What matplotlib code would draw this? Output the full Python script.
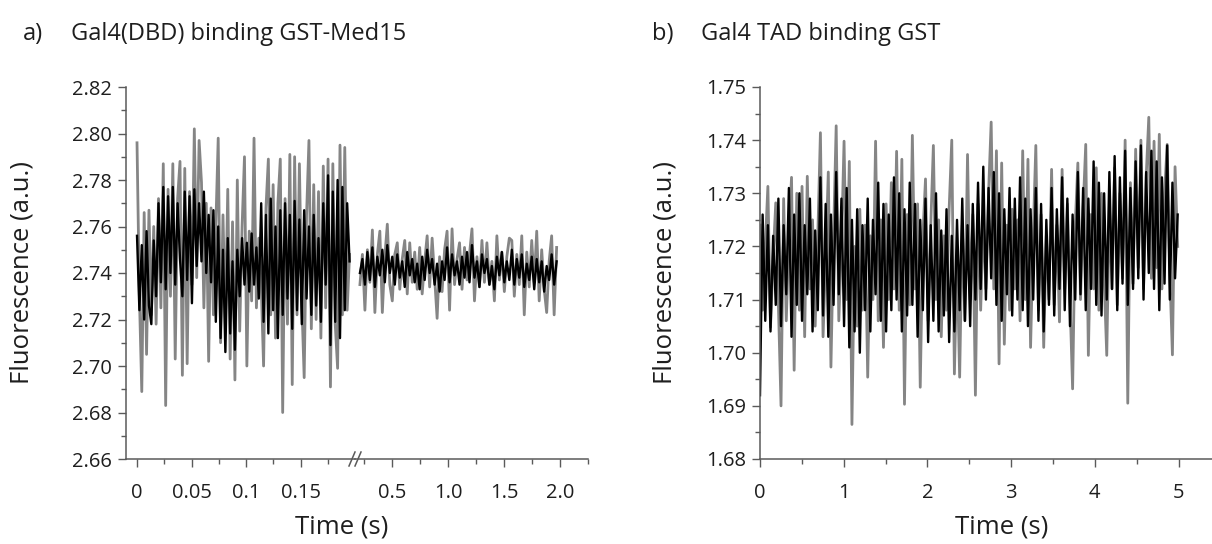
import numpy as np
import matplotlib
matplotlib.use("Agg")
import matplotlib.pyplot as plt
from matplotlib.ticker import MultipleLocator, FixedLocator

plt.rcParams['font.family'] = ['Open Sans', 'DejaVu Sans']

# ---------------- data ----------------
# Panel a, fast segment (0 - 0.195 s)
a1_t_start, a1_t_end = 0.0, 0.195
a1_gray = [2.796, 2.730, 2.689, 2.766, 2.705, 2.767, 2.722, 2.760, 2.718, 2.772,
           2.725, 2.787, 2.683, 2.776, 2.730, 2.787, 2.703, 2.772, 2.788, 2.696,
           2.785, 2.701, 2.775, 2.735, 2.802, 2.738, 2.797, 2.779, 2.725, 2.770,
           2.702, 2.768, 2.722, 2.760, 2.798, 2.710, 2.765, 2.718, 2.776, 2.703,
           2.762, 2.694, 2.780, 2.715, 2.760, 2.790, 2.700, 2.758, 2.728, 2.798,
           2.725, 2.755, 2.735, 2.700, 2.768, 2.789, 2.722, 2.778, 2.712, 2.770,
           2.789, 2.680, 2.772, 2.718, 2.791, 2.692, 2.790, 2.722, 2.787, 2.728,
           2.695, 2.765, 2.797, 2.716, 2.778, 2.720, 2.775, 2.712, 2.786, 2.725,
           2.789, 2.691, 2.787, 2.718, 2.699, 2.795, 2.722, 2.794, 2.724, 2.748]
a1_black = [2.756, 2.724, 2.752, 2.720, 2.758, 2.726, 2.718, 2.754, 2.730, 2.770,
            2.736, 2.777, 2.733, 2.773, 2.740, 2.777, 2.735, 2.770, 2.746, 2.730,
            2.775, 2.737, 2.773, 2.727, 2.776, 2.743, 2.770, 2.745, 2.775, 2.740,
            2.765, 2.736, 2.767, 2.719, 2.760, 2.712, 2.750, 2.706, 2.755, 2.714,
            2.745, 2.707, 2.750, 2.730, 2.755, 2.735, 2.753, 2.732, 2.757, 2.735,
            2.751, 2.729, 2.770, 2.719, 2.765, 2.714, 2.772, 2.724, 2.760, 2.712,
            2.767, 2.722, 2.770, 2.729, 2.765, 2.716, 2.771, 2.724, 2.763, 2.718,
            2.767, 2.729, 2.760, 2.722, 2.765, 2.726, 2.755, 2.719, 2.770, 2.735,
            2.782, 2.709, 2.775, 2.719, 2.780, 2.712, 2.777, 2.724, 2.770, 2.745]

# Panel a, slow segment (0.21 - 1.97 s)
a2_t_start, a2_t_end = 0.214, 1.97
a2_gray = [2.735, 2.748, 2.724, 2.750, 2.736, 2.7585, 2.723, 2.748, 2.758, 2.723,
           2.747, 2.761, 2.735, 2.728, 2.748, 2.753, 2.733, 2.746, 2.754, 2.731,
           2.753, 2.736, 2.749, 2.733, 2.751, 2.731, 2.745, 2.756, 2.734, 2.755,
           2.738, 2.7205, 2.747, 2.732, 2.750, 2.758, 2.724, 2.759, 2.735, 2.746,
           2.753, 2.733, 2.751, 2.737, 2.748, 2.759, 2.728, 2.747, 2.734, 2.754,
           2.736, 2.753, 2.735, 2.745, 2.728, 2.756, 2.737, 2.749, 2.732, 2.747,
           2.755, 2.754, 2.730, 2.748, 2.735, 2.756, 2.722, 2.749, 2.734, 2.754,
           2.736, 2.758, 2.728, 2.750, 2.733, 2.723, 2.745, 2.756, 2.722, 2.751]
a2_black = [2.740, 2.746, 2.735, 2.749, 2.737, 2.751, 2.734, 2.747, 2.739, 2.750,
            2.736, 2.752, 2.740, 2.747, 2.735, 2.748, 2.738, 2.745, 2.734, 2.749,
            2.739, 2.746, 2.736, 2.744, 2.733, 2.747, 2.737, 2.750, 2.740, 2.746,
            2.735, 2.744, 2.732, 2.745, 2.737, 2.751, 2.736, 2.748, 2.739, 2.745,
            2.735, 2.747, 2.738, 2.749, 2.736, 2.752, 2.738, 2.745, 2.734, 2.748,
            2.740, 2.746, 2.735, 2.743, 2.733, 2.747, 2.739, 2.749, 2.736, 2.745,
            2.737, 2.750, 2.735, 2.746, 2.738, 2.748, 2.734, 2.744, 2.737, 2.747,
            2.733, 2.746, 2.736, 2.745, 2.732, 2.743, 2.737, 2.748, 2.735, 2.745]

# Panel b (0 - 5 s)
b_t_start, b_t_end = 0.0, 4.99
b_gray = [1.724, 1.708, 1.720, 1.7313, 1.7048, 1.718, 1.7282, 1.709, 1.690, 1.729,
          1.706, 1.722, 1.733, 1.6967, 1.730, 1.708, 1.7313, 1.703, 1.7332, 1.712,
          1.725, 1.705, 1.722, 1.7414, 1.703, 1.718, 1.734, 1.6973, 1.722, 1.7427,
          1.706, 1.720, 1.7398, 1.710, 1.736, 1.6865, 1.720, 1.705, 1.727, 1.708,
          1.724, 1.6954, 1.722, 1.710, 1.7398, 1.706, 1.725, 1.701, 1.728, 1.710,
          1.732, 1.712, 1.7379, 1.708, 1.7364, 1.6903, 1.726, 1.709, 1.7409, 1.712,
          1.728, 1.6935, 1.722, 1.7327, 1.706, 1.724, 1.739, 1.710, 1.725, 1.703,
          1.722, 1.708, 1.727, 1.740, 1.696, 1.718, 1.6954, 1.724, 1.706, 1.7373,
          1.710, 1.726, 1.692, 1.728, 1.708, 1.725, 1.712, 1.730, 1.7434, 1.712,
          1.738, 1.6979, 1.7357, 1.7016, 1.724, 1.708, 1.727, 1.712, 1.725, 1.706,
          1.738, 1.710, 1.7364, 1.701, 1.722, 1.739, 1.708, 1.726, 1.701, 1.722,
          1.710, 1.7345, 1.709, 1.724, 1.7058, 1.7345, 1.712, 1.728, 1.710, 1.6932,
          1.724, 1.7357, 1.710, 1.727, 1.7392, 1.6995, 1.726, 1.712, 1.7348, 1.708,
          1.730, 1.714, 1.6995, 1.728, 1.712, 1.7348, 1.709, 1.730, 1.714, 1.740,
          1.6905, 1.732, 1.713, 1.7383, 1.716, 1.740, 1.712, 1.733, 1.7443, 1.714,
          1.7398, 1.716, 1.7411, 1.712, 1.730, 1.7392, 1.715, 1.6996, 1.735, 1.720]
b_black = [1.692, 1.726, 1.706, 1.724, 1.704, 1.722, 1.709, 1.729, 1.705, 1.724,
           1.711, 1.731, 1.703, 1.726, 1.709, 1.730, 1.706, 1.724, 1.711, 1.729,
           1.704, 1.723, 1.708, 1.733, 1.707, 1.728, 1.703, 1.726, 1.709, 1.734,
           1.711, 1.729, 1.705, 1.731, 1.701, 1.725, 1.704, 1.727, 1.700, 1.724,
           1.708, 1.729, 1.704, 1.725, 1.711, 1.732, 1.706, 1.728, 1.704, 1.726,
           1.708, 1.733, 1.710, 1.730, 1.704, 1.727, 1.707, 1.732, 1.709, 1.728,
           1.703, 1.725, 1.708, 1.729, 1.702, 1.724, 1.706, 1.730, 1.704, 1.723,
           1.707, 1.727, 1.702, 1.722, 1.704, 1.725, 1.708, 1.729, 1.706, 1.724,
           1.705, 1.728, 1.710, 1.732, 1.712, 1.735, 1.710, 1.731, 1.714, 1.734,
           1.709, 1.730, 1.706, 1.727, 1.711, 1.731, 1.707, 1.729, 1.710, 1.733,
           1.708, 1.729, 1.705, 1.727, 1.710, 1.731, 1.706, 1.728, 1.704, 1.725,
           1.709, 1.731, 1.707, 1.727, 1.712, 1.733, 1.708, 1.729, 1.705, 1.726,
           1.710, 1.734, 1.711, 1.731, 1.708, 1.729, 1.712, 1.736, 1.709, 1.732,
           1.707, 1.730, 1.710, 1.734, 1.712, 1.737, 1.708, 1.733, 1.713, 1.738,
           1.709, 1.731, 1.712, 1.736, 1.714, 1.739, 1.710, 1.734, 1.715, 1.738,
           1.712, 1.736, 1.708, 1.733, 1.713, 1.739, 1.710, 1.732, 1.714, 1.726]

a1_ticks = [0, 0.05, 0.1, 0.15]
a1_ticklabels = ["0", "0.05", "0.1", "0.15"]
a2_ticks = [0.5, 1.0, 1.5, 2.0]
a2_ticklabels = ["0.5", "1.0", "1.5", "2.0"]
a_yticks = [2.66, 2.68, 2.70, 2.72, 2.74, 2.76, 2.78, 2.80, 2.82]
b_xticks = [0, 1, 2, 3, 4, 5]
b_yticks = [1.68, 1.69, 1.70, 1.71, 1.72, 1.73, 1.74, 1.75]

title_a = "Gal4(DBD) binding GST-Med15"
title_b = "Gal4 TAD binding GST"
ylabel = "Fluorescence (a.u.)"
xlabel = "Time (s)"

# ---------------- figure ----------------
W, H = 1212, 544
fig = plt.figure(figsize=(W / 100, H / 100), dpi=100)

def fx(px):
    return px / W

def fy(py):
    return 1 - py / H

ax_bottom = fy(459)
ax_height = fy(87) - fy(459)

GRAY = '#858585'
SPINE = '#5a5a5a'
TXT = '#1e1e1e'
TICKFS = 14.5
GRAY_LW = 2.0
BLACK_LW = 1.7

def style(ax, left=True):
    for s in ['top', 'right']:
        ax.spines[s].set_visible(False)
    ax.spines['left'].set_visible(left)
    for s in ['left', 'bottom']:
        ax.spines[s].set_color(SPINE)
        ax.spines[s].set_linewidth(1.1)
    ax.tick_params(which='major', direction='out', length=6, width=1.0, color=SPINE,
                   labelsize=TICKFS, labelcolor=TXT)
    ax.tick_params(which='minor', direction='out', length=3.5, width=1.0, color=SPINE)
    ax.tick_params(axis='x', which='major', pad=11)
    ax.tick_params(axis='y', which='major', pad=4)
    if not left:
        ax.tick_params(axis='y', which='both', left=False, labelleft=False)
    ax.patch.set_alpha(0)

# Panel a, first segment
ax1 = fig.add_axes([fx(126), ax_bottom, fx(355) - fx(126), ax_height])
t1 = np.linspace(a1_t_start, a1_t_end, len(a1_gray))
ax1.plot(t1, a1_gray, color=GRAY, lw=GRAY_LW)
ax1.plot(t1, a1_black, color='black', lw=BLACK_LW)
ax1.set_xlim(-0.0101, 0.2)
ax1.set_ylim(2.66, 2.82)
ax1.set_xticks(a1_ticks)
ax1.set_xticklabels(a1_ticklabels)
ax1.xaxis.set_minor_locator(FixedLocator([0.025, 0.075, 0.125, 0.175]))
ax1.set_yticks(a_yticks)
ax1.set_yticklabels([f"{v:.2f}" for v in a_yticks])
ax1.yaxis.set_minor_locator(MultipleLocator(0.01))
style(ax1)

# Panel a, second segment
ax2 = fig.add_axes([fx(355), ax_bottom, fx(588) - fx(355), ax_height])
t2 = np.linspace(a2_t_start, a2_t_end, len(a2_gray))
ax2.plot(t2, a2_gray, color=GRAY, lw=GRAY_LW)
ax2.plot(t2, a2_black, color='black', lw=BLACK_LW)
ax2.set_xlim(0.17, 2.25)
ax2.set_ylim(2.66, 2.82)
ax2.set_xticks(a2_ticks)
ax2.set_xticklabels(a2_ticklabels)
ax2.xaxis.set_minor_locator(FixedLocator([0.25, 0.75, 1.25, 1.75, 2.25]))
style(ax2, left=False)

# axis-break marks "//"
for xp in (352, 358):
    fig.add_artist(plt.Line2D([fx(xp - 3), fx(xp + 3)], [fy(459 + 7), fy(459 - 7)],
                              color=SPINE, lw=1.1))

# Panel b
ax3 = fig.add_axes([fx(760), ax_bottom, fx(1212) - fx(760), ax_height])
tb = np.linspace(b_t_start, b_t_end, len(b_gray))
ax3.plot(tb, b_gray, color=GRAY, lw=GRAY_LW)
ax3.plot(tb, b_black, color='black', lw=BLACK_LW)
ax3.set_xlim(0, 5.4)
ax3.set_ylim(1.68, 1.75)
ax3.set_xticks(b_xticks)
ax3.xaxis.set_minor_locator(MultipleLocator(0.5))
ax3.set_yticks(b_yticks)
ax3.set_yticklabels([f"{v:.2f}" for v in b_yticks])
ax3.yaxis.set_minor_locator(MultipleLocator(0.005))
style(ax3)

# Titles and labels
TITLEFS = 17
fig.text(fx(23), fy(34), "a)", fontsize=TITLEFS, color=TXT, va='center', ha='left')
fig.text(fx(71), fy(34), title_a, fontsize=TITLEFS, color=TXT, va='center', ha='left')
fig.text(fx(652), fy(34), "b)", fontsize=TITLEFS, color=TXT, va='center', ha='left')
fig.text(fx(701), fy(34), title_b, fontsize=TITLEFS, color=TXT, va='center', ha='left')

fig.text(fx(22), fy(273), ylabel, fontsize=18.5, color=TXT, rotation=90, va='center', ha='center')
fig.text(fx(665), fy(273), ylabel, fontsize=18.5, color=TXT, rotation=90, va='center', ha='center')
fig.text(fx(342), fy(527), xlabel, fontsize=18.5, color=TXT, va='center', ha='center')
fig.text(fx(1002), fy(527), xlabel, fontsize=18.5, color=TXT, va='center', ha='center')

fig.savefig("out.png", dpi=100)
